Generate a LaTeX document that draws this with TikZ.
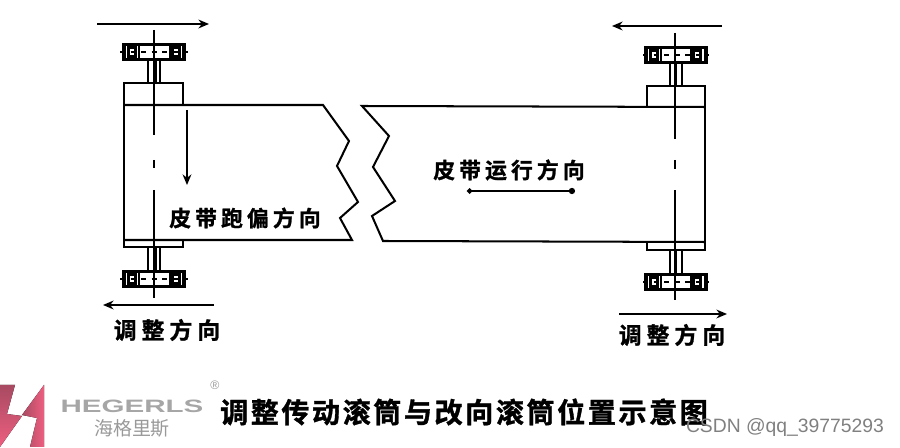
\documentclass[tikz,border=0pt]{standalone}
\usepackage{fontspec}
\setmainfont{Liberation Sans}
\newfontfamily\cjk[BoldFont={* Bold},BoldFeatures={FakeBold=1.2}]{Noto Sans CJK SC}
\usetikzlibrary{arrows.meta}
\definecolor{logopink}{HTML}{EE5F80}
\definecolor{logodark}{HTML}{A84A62}
\tikzset{
  beltline/.style={line width=1.15pt},
  bearing/.style={draw,line width=1.9pt,minimum width=1.2cm,minimum height=.3cm,inner sep=0pt},
  roller/.style={draw,line width=2pt,minimum width=.14cm,minimum height=.2cm,inner sep=0pt},
  direction/.style={line width=1.1pt,-{Stealth[length=6pt,width=5pt]}},
  roundtip/.style={line width=1.1pt,{Circle[length=3pt]}-{Circle[length=3.5pt]}},
  beltlabel/.style={font=\cjk\bfseries\fontsize{12.4}{13}\selectfont\addfontfeature{LetterSpace=19},inner sep=0pt},
  adjustlabel/.style={font=\cjk\bfseries\fontsize{13}{14}\selectfont\addfontfeature{LetterSpace=22},inner sep=0pt},
  titlelabel/.style={font=\cjk\bfseries\fontsize{16}{17}\selectfont\addfontfeature{LetterSpace=9},inner sep=0pt}
}
\begin{document}
\begin{tikzpicture}[x=0.02cm,y=-0.02cm]
    \useasboundingbox (0,0) rectangle (900,448);

    % Rullo sinistro
    \node[bearing] (bearingTL) at (154,52) {};
    \node[roller] (rollerTLa) at (132,52) {};
    \node[roller] (rollerTLb) at (176,52) {};
    \draw[line width=1.3pt] (139,45) -- (139,60) (170,45) -- (170,60);
    \draw[line width=.9pt,dashed] (120,52) -- (188,52);
    \draw[beltline] (148,60) -- (148,83) (160,60) -- (160,83) (156,60) -- (156,83);
    \draw[beltline] (124,105) -- (124,83) -- (183,83) -- (183,105);
    \draw[beltline] (124,105) -- (124,247) -- (183,247) -- (183,240);
    \draw[line width=1.2pt] (154,30) -- (154,135) (154,160) -- (154,168) (154,190) -- (154,298);

    \node[bearing] (bearingBL) at (154,279) {};
    \node[roller] (rollerBLa) at (132,279) {};
    \node[roller] (rollerBLb) at (176,279) {};
    \draw[line width=1.3pt] (139,272) -- (139,287) (170,272) -- (170,287);
    \draw[line width=.9pt,dashed] (120,279) -- (188,279);
    \draw[beltline] (148,247) -- (148,271) (160,247) -- (160,271) (156,247) -- (156,271);

    % Nastro
    \draw[beltline] (124,105) -- (323,105) -- (349,141) -- (337,166) -- (358,202) -- (340,218) -- (352,240) -- (124,240);
    \draw[beltline] (704,107) -- (362,106) -- (389,136) -- (373,167) -- (395,201) -- (372,216) -- (383,241) -- (704,242);

    % Rullo destro
    \node[bearing] (bearingTR) at (676,55) {};
    \node[roller] (rollerTRa) at (654,55) {};
    \node[roller] (rollerTRb) at (697,55) {};
    \draw[line width=1.3pt] (661,47) -- (661,63) (691,47) -- (691,63);
    \draw[line width=.9pt,dashed] (643,55) -- (709,55);
    \draw[beltline] (670,63) -- (670,86) (682,63) -- (682,86) (676,63) -- (676,86);
    \draw[beltline] (647,107) -- (647,86) -- (705,86) -- (705,250) -- (647,250) -- (647,243);
    \draw[line width=1.2pt] (675,33) -- (675,139) (675,160) -- (675,169) (675,190) -- (675,300);

    \node[bearing] (bearingBR) at (676,282) {};
    \node[roller] (rollerBRa) at (654,282) {};
    \node[roller] (rollerBRb) at (697,282) {};
    \draw[line width=1.3pt] (661,274) -- (661,290) (691,274) -- (691,290);
    \draw[line width=.9pt,dashed] (643,282) -- (709,282);
    \draw[beltline] (670,250) -- (670,274) (682,250) -- (682,274) (676,250) -- (676,274);

    % Frecce
    \coordinate (arrowTLa) at (97,24);
    \coordinate (arrowTLb) at (209,24);
    \coordinate (arrowBLa) at (214,305);
    \coordinate (arrowBLb) at (103,305);
    \coordinate (arrowTRa) at (722,26);
    \coordinate (arrowTRb) at (612,26);
    \coordinate (arrowBRa) at (619,314);
    \coordinate (arrowBRb) at (727,314);
    \coordinate (driftA) at (187,110);
    \coordinate (driftB) at (187,185);
    \coordinate (runA) at (467,191);
    \coordinate (runB) at (575,191);
    \draw[direction] (arrowTLa) -- (arrowTLb);
    \draw[direction] (arrowBLa) -- (arrowBLb);
    \draw[direction] (arrowTRa) -- (arrowTRb);
    \draw[direction] (arrowBRa) -- (arrowBRb);
    \draw[direction] (driftA) -- (driftB);
    \draw[roundtip] (runA) -- (runB);

    % Testi
    \node[beltlabel] (driftlabel) at (245,218) {皮带跑偏方向};
    \node[beltlabel] (runlabel) at (509,170) {皮带运行方向};
    \node[adjustlabel] (adjustL) at (167,330) {调整方向};
    \node[adjustlabel] (adjustR) at (672,335) {调整方向};
    \node[titlelabel] (title) at (464,412) {调整传动滚筒与改向滚筒位置示意图};

    % Marchio
    \fill[top color=logodark,bottom color=logopink] (0,385) -- (15,385) -- (7,414) -- (22,416) -- (0,447) -- cycle;
    \fill[left color=logodark,right color=logopink] (44,385) -- (44,447) -- (30,447) -- (37,418) -- (22,415) -- cycle;
    \node[text=black!35,font={\fontsize{10.2}{11}\selectfont\bfseries},xscale=1.65,transform shape,inner sep=0pt] (brand) at (132,406) {HEGERLS};
    \node[text=black!40,font={\cjk\fontsize{10.8}{11}\selectfont},inner sep=0pt] (brandcn) at (132,428) {海格里斯};
    \node[text=black!40,font={\fontsize{7}{8}\selectfont},inner sep=0pt] (regmark) at (215,385) {®};
    \node[text=black!50,font={\fontsize{11}{12}\selectfont},inner sep=0pt] (watermark) at (785,428) {CSDN @qq\_39775293};
\end{tikzpicture}
\end{document}
